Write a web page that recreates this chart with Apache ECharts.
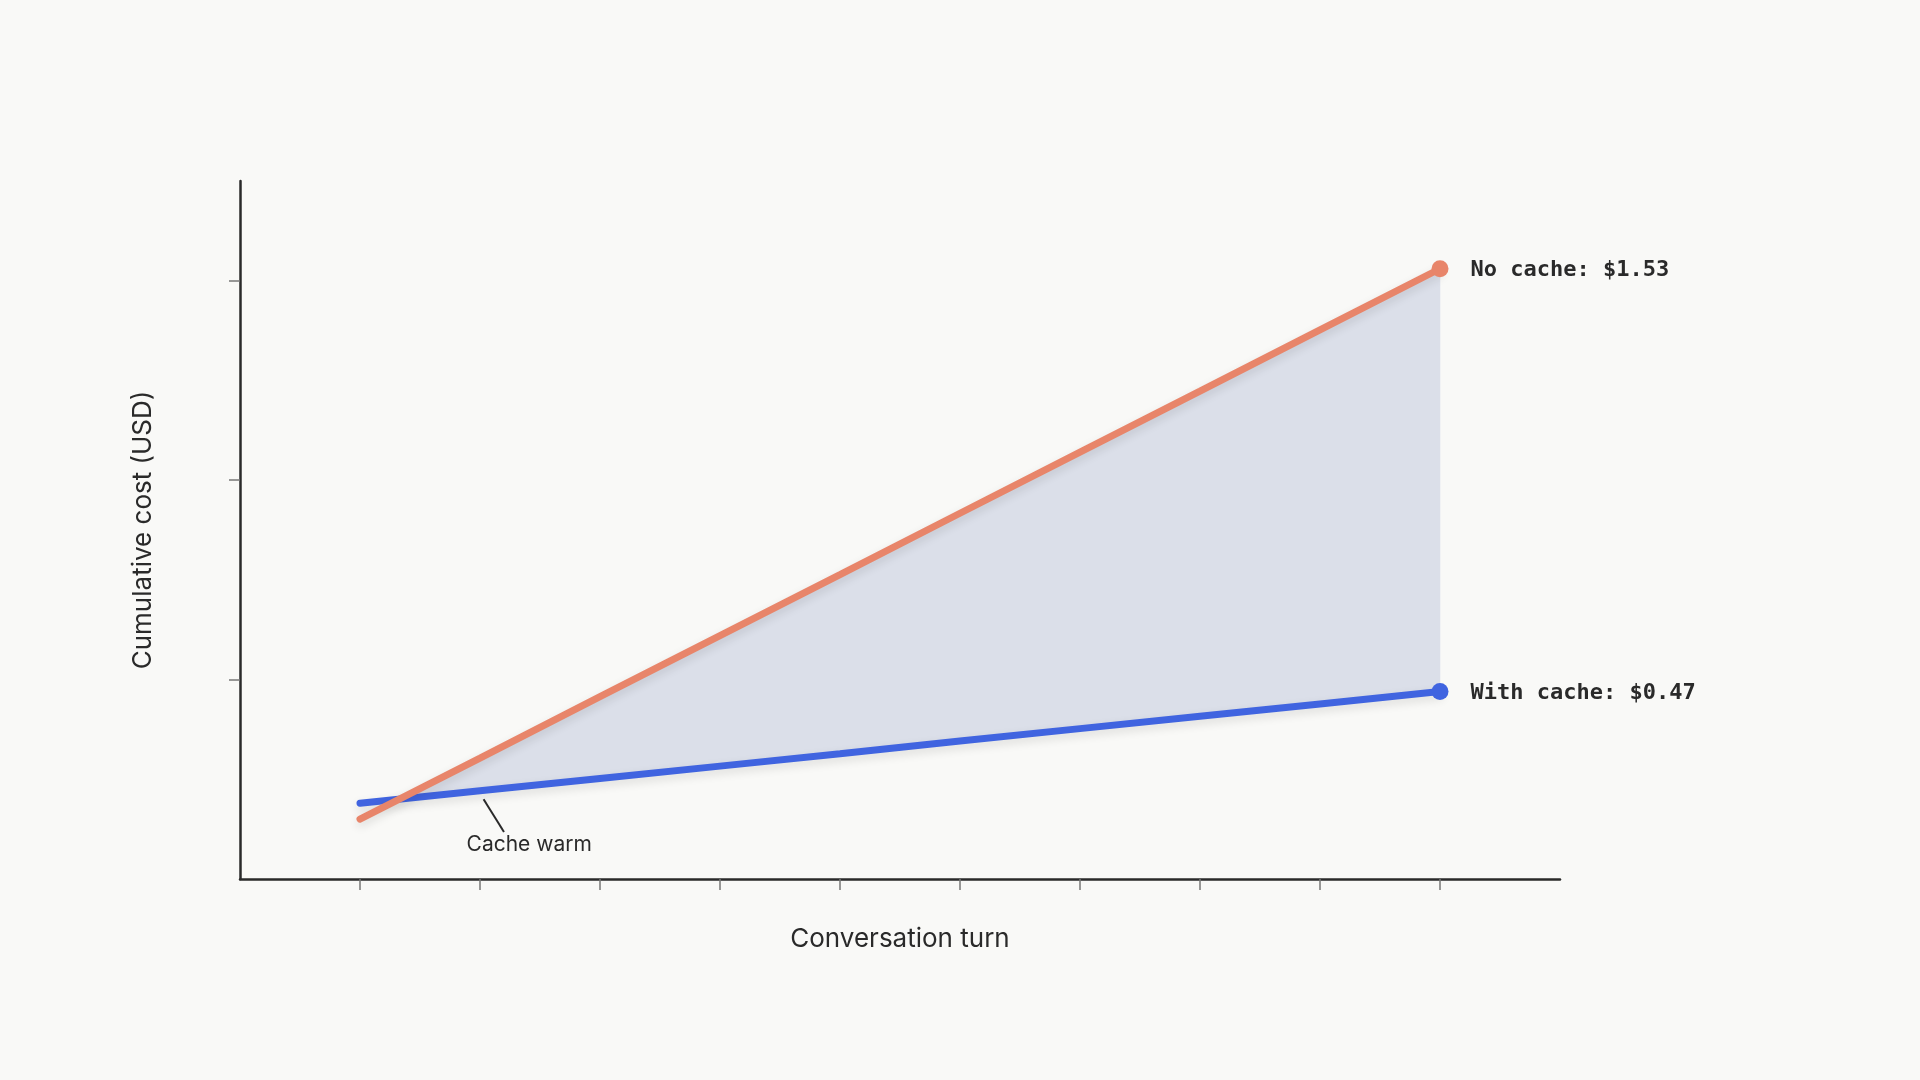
<!DOCTYPE html>
<html>
  <head>
    <meta charset="utf-8">
    <script src="https://cdn.jsdelivr.net/npm/echarts@6.0.0/dist/echarts.min.js"></script>
    <style>
      html, body { margin: 0; padding: 0; background: #f9f9f7; }
      #chart { width: 1920px; height: 1080px; }
    </style>
  </head>
  <body>
    <div id="chart"></div>
    <script>
      // data
      const turns = [1, 2, 3, 4, 5, 6, 7, 8, 9, 10];
      const noCache = [0.150, 0.303, 0.457, 0.610, 0.763, 0.917, 1.070, 1.223, 1.377, 1.530];
      const withCache = [0.190, 0.221, 0.252, 0.283, 0.314, 0.346, 0.377, 0.408, 0.439, 0.470];
      const yTicks = [0.5, 1.0, 1.5];

      const ORANGE = '#e8856a';
      const BLUE = '#4064e0';
      const FILL = '#dbdfe9';
      const last = turns.length - 1;

      function lineData(vals, name) {
        return vals.map((v, i) => {
          if (i !== last) return [turns[i], v];
          return {
            value: [turns[i], v],
            symbol: 'circle',
            symbolSize: 17,
            label: {
              show: true,
              position: 'right',
              distance: 22,
              offset: [0, 2],
              formatter: name + ': $' + v.toFixed(2),
              fontFamily: 'DejaVu Sans Mono',
              fontWeight: 'bold',
              fontSize: 22,
              color: '#2a2a2a'
            }
          };
        });
      }

      // shaded gap between the two lines, only where no-cache is above
      function renderGap(params, api) {
        const pts = [];
        for (let i = 0; i < turns.length - 1; i++) {
          const d0 = noCache[i] - withCache[i];
          const d1 = noCache[i + 1] - withCache[i + 1];
          if (d0 < 0 && d1 >= 0) {
            const t = d0 / (d0 - d1);
            pts.push(api.coord([turns[i] + t * (turns[i + 1] - turns[i]),
              withCache[i] + t * (withCache[i + 1] - withCache[i])]));
          } else if (d0 >= 0 && pts.length === 0) {
            pts.push(api.coord([turns[i], noCache[i]]));
          }
          if (d1 >= 0) pts.push(api.coord([turns[i + 1], noCache[i + 1]]));
        }
        for (let i = turns.length - 1; i >= 0; i--) {
          if (noCache[i] - withCache[i] >= 0) pts.push(api.coord([turns[i], withCache[i]]));
        }
        return {
          type: 'polygon',
          shape: { points: pts },
          style: { fill: FILL, stroke: FILL, lineWidth: 0.5 }
        };
      }

      const chart = echarts.init(document.getElementById('chart'));
      chart.setOption({
        backgroundColor: '#f9f9f7',
        animation: false,
        grid: { left: 240, right: 360, top: 181, bottom: 201 },
        xAxis: {
          type: 'value',
          min: 0,
          max: 11,
          interval: 1,
          name: 'Conversation turn',
          nameLocation: 'middle',
          nameGap: 47,
          nameTextStyle: { fontFamily: 'Inter', fontSize: 26, color: '#2a2a2a' },
          splitLine: { show: false },
          axisLine: { lineStyle: { color: '#2a2a2a', width: 2.5 } },
          axisTick: { show: true, length: 11, customValues: turns, lineStyle: { color: '#777', width: 1.5 } },
          axisLabel: { show: false }
        },
        yAxis: {
          type: 'value',
          min: 0,
          max: 1.75,
          name: 'Cumulative cost (USD)',
          nameLocation: 'middle',
          nameGap: 84,
          nameTextStyle: { fontFamily: 'Inter', fontSize: 26, color: '#2a2a2a' },
          splitLine: { show: false },
          axisLine: { show: true, lineStyle: { color: '#2a2a2a', width: 2.5 } },
          axisTick: { show: true, length: 11, customValues: yTicks, lineStyle: { color: '#777', width: 1.5 } },
          axisLabel: { show: false }
        },
        series: [
          {
            type: 'custom',
            renderItem: renderGap,
            data: [[turns[0], noCache[0]]],
            z: 1,
            silent: true
          },
          {
            name: 'With cache',
            type: 'line',
            data: lineData(withCache, 'With cache'),
            symbol: 'none',
            showSymbol: true,
            z: 3,
            itemStyle: { color: BLUE },
            lineStyle: {
              color: BLUE, width: 7, cap: 'round',
              shadowColor: 'rgba(0,0,0,0.12)', shadowBlur: 10, shadowOffsetY: 4
            },
            markLine: {
              silent: true,
              symbol: 'none',
              label: { show: false },
              lineStyle: { color: '#2a2a2a', width: 2, type: 'solid' },
              data: [[{ coord: [2.03, 0.2] }, { coord: [2.2, 0.118] }]]
            },
            markPoint: {
              silent: true,
              symbol: 'circle',
              symbolSize: 1,
              itemStyle: { color: 'rgba(0,0,0,0)' },
              label: {
                show: true,
                position: 'inside',
                formatter: 'Cache warm',
                fontFamily: 'Inter',
                fontSize: 21,
                color: '#2a2a2a'
              },
              data: [{ coord: [2.41, 0.085] }]
            }
          },
          {
            name: 'No cache',
            type: 'line',
            data: lineData(noCache, 'No cache'),
            symbol: 'none',
            showSymbol: true,
            z: 4,
            itemStyle: { color: ORANGE },
            lineStyle: {
              color: ORANGE, width: 7, cap: 'round',
              shadowColor: 'rgba(0,0,0,0.12)', shadowBlur: 10, shadowOffsetY: 4
            }
          }
        ]
      });
    </script>
  </body>
</html>
